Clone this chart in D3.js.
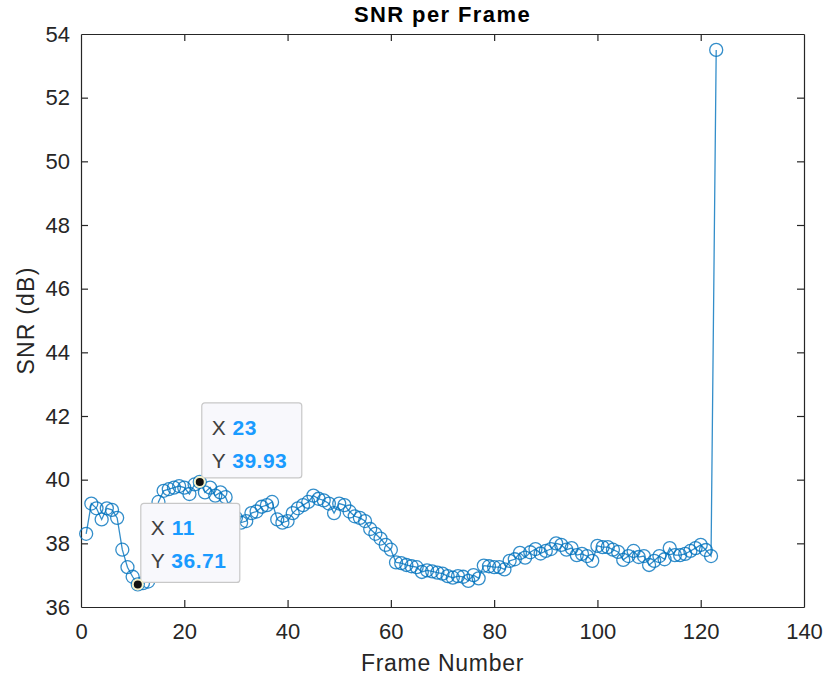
<!DOCTYPE html>
<html>
<head>
<meta charset="utf-8">
<script src="https://cdn.jsdelivr.net/npm/d3@7"></script>
<style>
  body { margin: 0; background: #fff; }
  text { font-family: "Liberation Sans", Arial, sans-serif; }
</style>
</head>
<body>
<div id="chart-container"></div>
<script>
// data
const frames = d3.range(1, 124);
const snr = [
  38.3, 39.25, 39.1, 38.75, 39.1, 39.05, 38.8, 37.8, 37.25, 36.95,
  36.71, 36.75, 36.8, 37.6, 39.3, 39.65, 39.7, 39.75, 39.8, 39.75,
  39.55, 39.85, 39.93, 39.6, 39.75, 39.5, 39.6, 39.45, 39.05, 38.8,
  38.65, 38.7, 38.95, 39.0, 39.15, 39.2, 39.3, 38.75, 38.65, 38.7,
  38.95, 39.1, 39.2, 39.3, 39.5, 39.4, 39.35, 39.25, 38.95, 39.25,
  39.2, 39.0, 38.85, 38.8, 38.7, 38.45, 38.3, 38.15, 37.95, 37.8,
  37.4, 37.38, 37.32, 37.28, 37.25, 37.1, 37.15, 37.12, 37.08, 37.05,
  36.97, 36.92, 36.97, 36.95, 36.82, 37.0, 36.9, 37.3, 37.28, 37.25,
  37.25, 37.18, 37.45, 37.5, 37.7, 37.55, 37.72, 37.82, 37.68, 37.76,
  37.82, 38.0, 37.95, 37.8, 37.85, 37.63, 37.67, 37.6, 37.45, 37.92,
  37.88, 37.88, 37.8, 37.73, 37.48, 37.6, 37.76, 37.57, 37.6, 37.32,
  37.45, 37.6, 37.5, 37.85, 37.63, 37.63, 37.67, 37.76, 37.85, 37.95,
  37.79, 37.6, 53.5
];
const xTicks = [0, 20, 40, 60, 80, 100, 120, 140];
const yTicks = [36, 38, 40, 42, 44, 46, 48, 50, 52, 54];
const tipFrames = [11, 23];

const data = frames.map((f, i) => ({ frame: f, snr: snr[i] }));

// dimensions
const margin = { top: 34, right: 24, bottom: 69, left: 81 };
const width = 828 - margin.left - margin.right;
const height = 676 - margin.top - margin.bottom;

const x = d3.scaleLinear().domain([0, 140]).range([0, width]);
const y = d3.scaleLinear().domain([36, 54]).range([height, 0]);

const svg = d3.select("#chart-container")
  .append("svg")
    .attr("width", 828)
    .attr("height", 676)
  .append("g")
    .attr("transform", `translate(${margin.left},${margin.top})`);

const axisColor = "#262626";
const tickLen = 7;

// axes with inward ticks
const xAxis = svg.append("g")
  .attr("transform", `translate(0,${height})`)
  .call(d3.axisBottom(x).tickValues(xTicks).tickSizeInner(-tickLen).tickSizeOuter(0).tickPadding(16));
const yAxis = svg.append("g")
  .call(d3.axisLeft(y).tickValues(yTicks).tickSizeInner(-tickLen).tickSizeOuter(0).tickPadding(11));
const xTop = svg.append("g")
  .call(d3.axisTop(x).tickValues(xTicks).tickSizeInner(-tickLen).tickSizeOuter(0).tickFormat(""));
const yRight = svg.append("g")
  .attr("transform", `translate(${width},0)`)
  .call(d3.axisRight(y).tickValues(yTicks).tickSizeInner(-tickLen).tickSizeOuter(0).tickFormat(""));

[xAxis, yAxis, xTop, yRight].forEach(g => {
  g.select(".domain").attr("stroke", axisColor).attr("stroke-width", 1.2);
  g.selectAll(".tick line").attr("stroke", axisColor).attr("stroke-width", 1.2);
  g.selectAll(".tick text")
    .attr("fill", "#262626")
    .style("font-size", "22px")
    .style("font-family", "'Liberation Sans', Arial, sans-serif");
});
// drop the end ticks on the frame
[xAxis, xTop].forEach(g => g.selectAll(".tick line").filter(d => d === 0 || d === 140).remove());
[yAxis, yRight].forEach(g => g.selectAll(".tick line").filter(d => d === 36 || d === 54).remove());

// title & labels
svg.append("text")
  .attr("x", width / 2)
  .attr("y", -12)
  .attr("text-anchor", "middle")
  .style("font-size", "22px")
  .style("font-weight", "bold")
  .style("letter-spacing", "1.4px")
  .attr("fill", "#000")
  .text("SNR per Frame");

svg.append("text")
  .attr("x", width / 2)
  .attr("y", height + 64)
  .attr("text-anchor", "middle")
  .style("font-size", "23px")
  .style("letter-spacing", "0.7px")
  .attr("fill", "#262626")
  .text("Frame Number");

svg.append("text")
  .attr("transform", "rotate(-90)")
  .attr("x", -height / 2)
  .attr("y", -47)
  .attr("text-anchor", "middle")
  .style("font-size", "23px")
  .style("letter-spacing", "1.2px")
  .attr("fill", "#262626")
  .text("SNR (dB)");

// line + circle markers
const blue = "#0072BD";
const line = d3.line().x(d => x(d.frame)).y(d => y(d.snr));

svg.append("path")
  .datum(data)
  .attr("fill", "none")
  .attr("stroke", blue)
  .attr("stroke-width", 1.3)
  .attr("stroke-opacity", 0.8)
  .attr("d", line);

svg.selectAll("circle.pt")
  .data(data)
  .join("circle")
  .attr("class", "pt")
  .attr("cx", d => x(d.frame))
  .attr("cy", d => y(d.snr))
  .attr("r", 6.5)
  .attr("fill", "none")
  .attr("stroke", blue)
  .attr("stroke-width", 1.3)
  .attr("stroke-opacity", 0.8);

// data tips
const tipBoxes = [
  { frame: 11, dx: 3, dy: -81, w: 99, h: 79 },
  { frame: 23, dx: 2, dy: -79, w: 100, h: 75 }
];

tipBoxes.forEach(t => {
  const d = data.find(p => p.frame === t.frame);
  const px = x(d.frame), py = y(d.snr);
  const g = svg.append("g").attr("transform", `translate(${px + t.dx},${py + t.dy})`);
  g.append("rect")
    .attr("width", t.w)
    .attr("height", t.h)
    .attr("rx", 3)
    .attr("fill", "#f8f8fc")
    .attr("stroke", "#c8c8c8")
    .attr("stroke-width", 1.2);
  const rows = [["X", d.frame], ["Y", d.snr.toFixed(2)]];
  rows.forEach((r, i) => {
    const txt = g.append("text")
      .attr("x", 10)
      .attr("y", 32 + i * 33)
      .style("font-size", "21px")
      .style("letter-spacing", "0.5px");
    txt.append("tspan").attr("fill", "#404040").text(r[0] + " ");
    txt.append("tspan").attr("fill", "#1a9bff").style("font-weight", "bold").text(r[1]);
  });
  svg.append("circle")
    .attr("cx", px)
    .attr("cy", py)
    .attr("r", 5)
    .attr("fill", "#111")
    .attr("stroke", "#f4f0c8")
    .attr("stroke-width", 2);
});
</script>
</body>
</html>
